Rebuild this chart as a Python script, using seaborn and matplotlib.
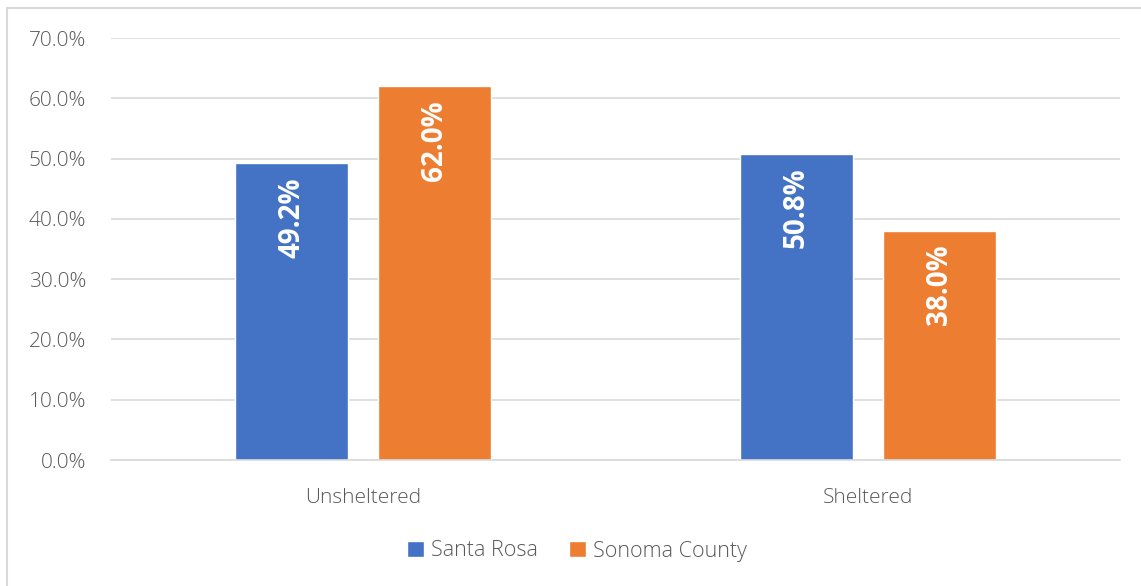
import numpy as np
import matplotlib
matplotlib.use("Agg")
import matplotlib.pyplot as plt
import pandas as pd
import seaborn as sns
from matplotlib.patches import Rectangle

categories = ["Unsheltered", "Sheltered"]
series = ["Santa Rosa", "Sonoma County"]
santa_rosa = [49.2, 50.8]
sonoma = [62.0, 38.0]

df = pd.DataFrame({
    "Status": categories * 2,
    "Area": [series[0]] * 2 + [series[1]] * 2,
    "Pct": santa_rosa + sonoma,
})

sns.set_style("white")
plt.rcParams['font.family'] = ['Open Sans', 'DejaVu Sans']

fig = plt.figure(figsize=(11.41, 5.86), dpi=100)
ax = fig.add_axes([111 / 1141, 1 - 460 / 586, 1009 / 1141, 422 / 586])

sns.barplot(data=df, x="Status", y="Pct", hue="Area", order=categories,
            hue_order=series, palette=["#4472C4", "#ED7D31"],
            width=0.567, gap=0.21, saturation=1, ax=ax, legend=True)

ax.set_ylim(0, 70)
ax.set_xlim(-0.5, 1.5)
ax.set_yticks(np.arange(0, 71, 10))
ax.set_yticklabels([f"{v:.1f}%" for v in np.arange(0, 71, 10)])
ax.yaxis.grid(True, color="#D9D9D9", linewidth=1.2)
ax.set_axisbelow(True)
for s in ["top", "right", "left"]:
    ax.spines[s].set_visible(False)
ax.spines["bottom"].set_color("#D9D9D9")
ax.spines["bottom"].set_linewidth(1.2)
ax.tick_params(axis="both", length=0, colors="#595959", labelsize=15)
ax.tick_params(axis="y", pad=18)
ax.tick_params(axis="x", pad=20)
for lab in ax.get_xticklabels() + ax.get_yticklabels():
    lab.set_fontweight(300)
ax.set_xlabel("")
ax.set_ylabel("")

for cont in ax.containers:
    for bar in cont:
        h = bar.get_height()
        ax.annotate(f"{h:.1f}%", (bar.get_x() + bar.get_width() / 2, h),
                    xytext=(0, -10), textcoords="offset points",
                    rotation=90, ha="center", va="top", color="white",
                    fontsize=20, fontweight="bold")

leg = ax.legend(loc="center", bbox_to_anchor=(577 / 1141, 1 - 551 / 586),
                bbox_transform=fig.transFigure,
                ncol=2, frameon=False, fontsize=15.5, handlelength=0.8,
                handleheight=0.8, handletextpad=0.35, columnspacing=1.4)
for t in leg.get_texts():
    t.set_color("#595959")
    t.set_fontweight(300)

fig.patches.append(Rectangle((7 / 1141, -0.1), 1.2, 1 - 8 / 586 + 0.1,
                             transform=fig.transFigure, fill=False,
                             edgecolor="#D9D9D9", linewidth=1.5))

fig.savefig("out.png", dpi=100)
